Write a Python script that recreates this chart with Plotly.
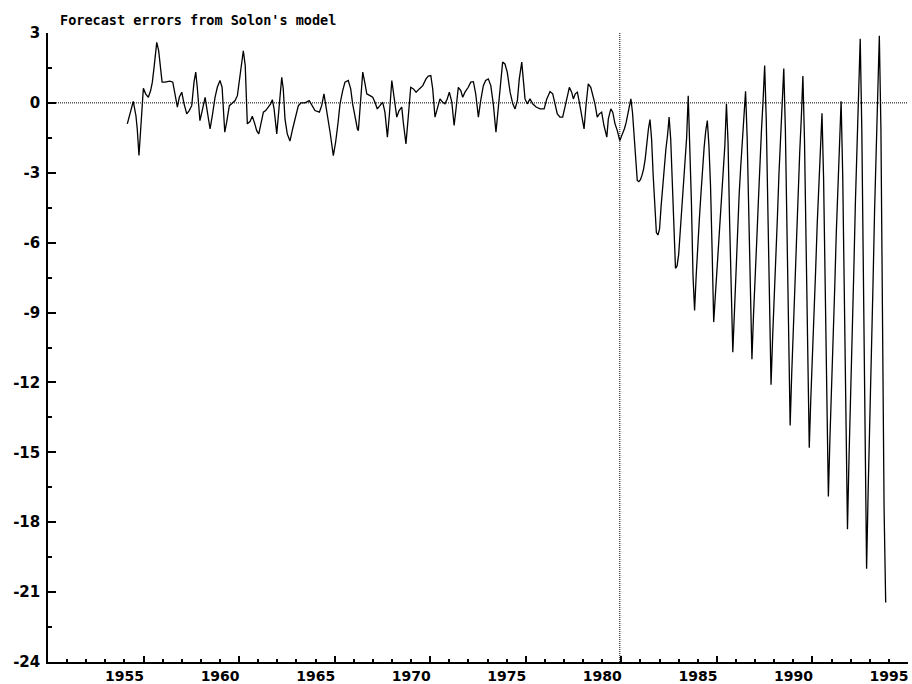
import numpy as np
import plotly.graph_objects as go

# ---------------- data ----------------
# In-sample residuals (decimal year, value)
resid_years = [
    1954.15, 1954.38, 1954.46, 1954.60, 1954.67, 1954.76, 1954.81, 1954.88, 1954.96, 1954.99,
    1955.11, 1955.25, 1955.37, 1955.46, 1955.56, 1955.69, 1955.79, 1955.86, 1955.97, 1956.12,
    1956.38, 1956.53, 1956.63, 1956.77, 1956.87, 1957.00, 1957.12, 1957.26, 1957.39, 1957.52,
    1957.64, 1957.73, 1957.81, 1957.95, 1958.07, 1958.22, 1958.34, 1958.48, 1958.60, 1958.74,
    1958.86, 1959.00, 1959.11, 1959.25, 1959.35, 1959.49, 1959.61, 1959.79, 1959.91, 1960.01,
    1960.14, 1960.22, 1960.32, 1960.43, 1960.57, 1960.69, 1960.82, 1960.92, 1961.03, 1961.15,
    1961.27, 1961.39, 1961.53, 1961.65, 1961.74, 1961.83, 1961.97, 1962.09, 1962.23, 1962.31,
    1962.40, 1962.52, 1962.66, 1962.80, 1962.96, 1963.10, 1963.24, 1963.45, 1963.67, 1963.80,
    1963.97, 1964.20, 1964.32, 1964.44, 1964.58, 1964.76, 1964.93, 1965.05, 1965.18, 1965.28,
    1965.42, 1965.54, 1965.71, 1965.84, 1965.94, 1966.06, 1966.19, 1966.24, 1966.36, 1966.47,
    1966.59, 1966.68, 1966.85, 1966.99, 1967.11, 1967.23, 1967.37, 1967.51, 1967.63, 1967.76,
    1967.86, 1967.99, 1968.11, 1968.25, 1968.37, 1968.51, 1968.59, 1968.73, 1968.85, 1968.98,
    1969.12, 1969.26, 1969.43, 1969.61, 1969.78, 1969.90, 1970.03, 1970.13, 1970.25, 1970.37,
    1970.51, 1970.65, 1970.77, 1970.89, 1971.00, 1971.13, 1971.25, 1971.35, 1971.47, 1971.60,
    1971.70, 1971.82, 1971.99, 1972.12, 1972.26, 1972.38, 1972.52, 1972.64, 1972.78, 1972.90,
    1973.04, 1973.17, 1973.30, 1973.44, 1973.56, 1973.69, 1973.79, 1973.91, 1974.03, 1974.18,
    1974.32, 1974.44, 1974.56, 1974.66, 1974.79, 1974.87, 1974.96, 1975.08, 1975.22, 1975.36,
    1975.54, 1975.75, 1975.96, 1976.10, 1976.27, 1976.41, 1976.53, 1976.65, 1976.79, 1976.93,
    1977.05, 1977.17, 1977.28, 1977.40, 1977.49, 1977.59, 1977.70, 1977.80, 1977.93, 1978.05,
    1978.15, 1978.27, 1978.40, 1978.50, 1978.62, 1978.74, 1978.85, 1978.97, 1979.09, 1979.24,
    1979.32, 1979.45, 1979.55, 1979.67, 1979.79, 1979.92,
]
resid_values = [
    -0.90, -0.26, 0.06, -0.54, -1.12, -2.26, -1.55, -0.83, 0.17, 0.63,
    0.39, 0.24, 0.53, 0.89, 1.60, 2.60, 2.24, 1.75, 0.89, 0.89,
    0.93, 0.89, 0.39, -0.18, 0.24, 0.46, -0.04, -0.47, -0.33, -0.12,
    0.89, 1.32, 0.67, -0.76, -0.33, 0.24, -0.40, -1.12, -0.54, 0.24,
    0.67, 0.96, 0.67, -1.26, -0.83, -0.12, -0.04, 0.10, 0.31, 0.96,
    1.82, 2.24, 1.60, -0.90, -0.80, -0.57, -0.90, -1.19, -1.33, -0.83,
    -0.40, -0.33, -0.18, -0.04, 0.14, -0.26, -1.33, -0.26, 1.10, 0.60,
    -0.69, -1.33, -1.64, -1.12, -0.54, -0.12, 0.00, 0.00, 0.10, -0.09,
    -0.33, -0.40, -0.12, 0.39, -0.26, -1.26, -2.26, -1.69, -0.83, -0.04,
    0.53, 0.89, 0.96, 0.60, -0.04, -0.61, -1.12, -1.19, 0.17, 1.32,
    0.82, 0.39, 0.31, 0.24, 0.03, -0.26, -0.12, 0.03, -0.40, -1.47,
    -0.54, 0.96, 0.24, -0.61, -0.33, -0.18, -0.83, -1.76, -0.61, 0.67,
    0.60, 0.46, 0.60, 0.74, 1.03, 1.15, 1.17, 0.60, -0.61, -0.26,
    0.17, 0.03, -0.04, 0.17, 0.46, 0.03, -0.97, -0.26, 0.67, 0.53,
    0.24, 0.46, 0.67, 0.89, 0.91, 0.39, -0.61, 0.10, 0.74, 0.96,
    1.03, 0.74, -0.04, -1.26, -0.04, 0.89, 1.75, 1.67, 1.32, 0.46,
    -0.04, -0.26, 0.10, 1.03, 1.75, 1.03, 0.17, -0.04, 0.17, -0.04,
    -0.18, -0.26, -0.26, 0.17, 0.49, 0.39, -0.04, -0.47, -0.61, -0.61,
    -0.18, 0.31, 0.67, 0.46, 0.17, 0.39, 0.46, 0.03, -0.61, -1.12,
    -0.12, 0.82, 0.67, 0.39, -0.04, -0.61, -0.47, -0.40, -0.97, -1.47,
    -0.69, -0.26, -0.40, -0.90, -1.19, -1.62,
]

# Monthly forecast errors, January 1980 - November 1993
fcst_start_year = 1980
fcst_values = [
    -1.45, -1.30, -1.10, -0.85, -0.55, -0.25, 0.17, -0.40, -1.55, -2.70, -3.33, -3.38,    # 1980
    -3.30, -3.10, -2.83, -2.40, -1.69, -1.12, -0.72, -1.55, -3.12, -4.69, -5.57, -5.67,   # 1981
    -5.41, -4.41, -3.55, -2.70, -1.97, -1.40, -0.61, -1.55, -3.55, -5.50, -7.10, -7.00,   # 1982
    -6.50, -5.50, -4.50, -3.60, -2.60, -1.50, 0.31, -1.55, -4.26, -7.41, -8.91, -7.41,    # 1983
    -5.84, -4.98, -3.90, -2.80, -1.90, -1.20, -0.76, -1.83, -3.55, -6.30, -9.41, -8.30,   # 1984
    -7.30, -6.30, -5.27, -3.83, -2.90, -1.83, -0.04, -1.69, -5.12, -8.40, -10.70, -9.00,  # 1985
    -7.00, -5.30, -3.90, -2.70, -1.60, -0.60, 0.50, -1.46, -4.90, -8.70, -11.00, -9.10,   # 1986
    -7.20, -5.96, -4.30, -2.56, -1.17, 0.09, 1.60, -0.73, -4.84, -9.36, -12.10, -10.06,   # 1987
    -8.03, -6.67, -4.91, -3.01, -1.52, -0.16, 1.47, -1.13, -5.73, -10.79, -13.85, -11.60, # 1988
    -9.35, -7.85, -5.90, -3.80, -2.15, -0.65, 1.15, -1.56, -6.35, -11.61, -14.80, -12.65, # 1989
    -10.50, -9.06, -7.19, -5.19, -3.61, -2.17, -0.45, -3.25, -8.18, -13.61, -16.90, -14.35,  # 1990
    -11.81, -10.11, -7.91, -5.53, -3.66, -1.97, 0.07, -3.05, -8.56, -14.63, -18.30, -15.14,  # 1991
    -11.99, -9.88, -7.14, -4.20, -1.88, 0.22, 2.75, -1.12, -7.94, -15.45, -20.00, -16.57,    # 1992
    -13.14, -10.85, -7.87, -4.67, -2.15, 0.13, 2.88, -1.14, -9.30, -17.50, -21.45,           # 1993
]

forecast_origin = 1979.92          # end of estimation sample (vertical marker)
x_range = [1950, 1995]
y_range = [-24, 3]
x_tick_years = [1955, 1960, 1965, 1970, 1975, 1980, 1985, 1990, 1995]
y_tick_values = [3, 0, -3, -6, -9, -12, -15, -18, -21, -24]
title_text = "Forecast errors from Solon's model"

# ---------------- figure ----------------
fcst_years = fcst_start_year + np.arange(len(fcst_values)) / 12.0
x_all = list(resid_years) + list(fcst_years)
y_all = list(resid_values) + list(fcst_values)

fig = go.Figure()
fig.add_trace(go.Scatter(
    x=x_all, y=y_all, mode="lines",
    line=dict(color="black", width=1.3),
    hoverinfo="skip", showlegend=False,
))

# dotted reference lines
fig.add_shape(type="line", xref="paper", yref="y", x0=0, x1=1, y0=0, y1=0,
              line=dict(color="black", width=1, dash="1px,1px"))
fig.add_shape(type="line", xref="x", yref="paper", x0=forecast_origin, x1=forecast_origin,
              y0=0, y1=1, line=dict(color="black", width=1, dash="1px,1px"))

x_tick_font = dict(family="DejaVu Sans", size=14, color="black", weight="bold")
y_tick_font = dict(family="DejaVu Sans", size=15, color="black", weight="bold")

fig.update_layout(
    width=912, height=684,
    margin=dict(l=48, r=4, t=33, b=22, autoexpand=False),
    paper_bgcolor="white", plot_bgcolor="white",
    showlegend=False,
    title=dict(text=title_text, x=60/912, xanchor="left", xref="container",
               y=1 - 20/684, yanchor="middle", yref="container",
               font=dict(family="DejaVu Sans Mono", size=13.5, color="black", weight="bold")),
    xaxis=dict(
        range=x_range, showgrid=False, zeroline=False, automargin=False,
        showline=True, linecolor="black", linewidth=1.5,
        tickmode="array", tickvals=x_tick_years, ticktext=[str(v) for v in x_tick_years],
        ticks="inside", ticklen=6, tickwidth=1.5, tickcolor="black",
        ticklabelshift=-19, ticklabelstandoff=0,
        tickfont=x_tick_font,
        minor=dict(tick0=1950, dtick=1, ticks="inside", ticklen=3, tickwidth=1.5, tickcolor="black"),
    ),
    yaxis=dict(
        range=y_range, showgrid=False, zeroline=False, automargin=False,
        showline=True, linecolor="black", linewidth=1.5,
        tickmode="array", tickvals=y_tick_values, ticktext=[str(v) for v in y_tick_values],
        ticks="inside", ticklen=8, tickwidth=1.5, tickcolor="black",
        ticklabelstandoff=3,
        tickfont=y_tick_font,
        minor=dict(tick0=1.5, dtick=3, ticks="inside", ticklen=4, tickwidth=1.5, tickcolor="black"),
    ),
)

fig.write_html("out.html")
